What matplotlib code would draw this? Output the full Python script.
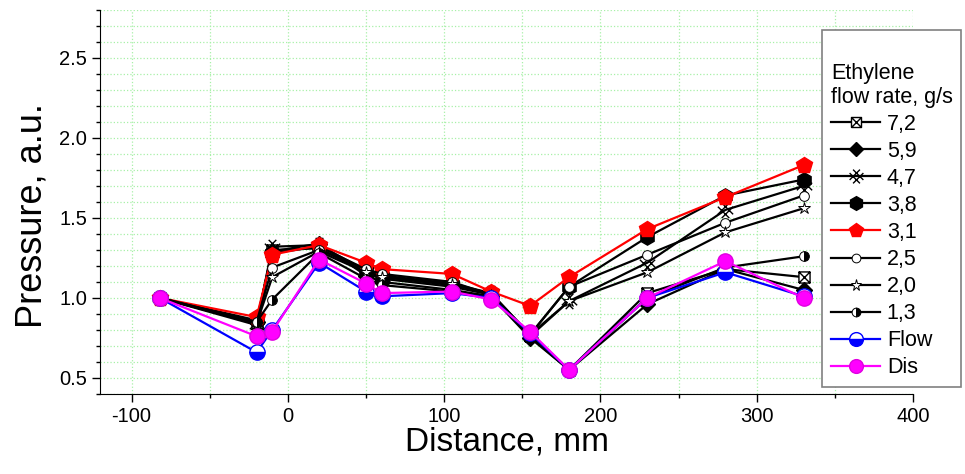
import matplotlib
matplotlib.use('Agg')
import matplotlib.pyplot as plt
from matplotlib.path import Path
from matplotlib.ticker import MultipleLocator

plt.rcParams['font.family'] = ['Liberation Sans', 'DejaVu Sans']
plt.rcParams['axes.unicode_minus'] = False

# Расстояние, мм
distance = [-82, -20, -10, 20, 50, 60, 105, 130, 155, 180, 230, 280, 330]

# Давление для разных расходов этилена
p_72  = [1.00, 0.84, 1.30, 1.31, 1.16, 1.12, 1.07, 1.02, 0.76, 0.55, 1.03, 1.18, 1.13]
p_59  = [1.00, 0.85, 1.29, 1.34, 1.14, 1.10, 1.05, 1.01, 0.75, 0.55, 0.96, 1.18, 1.05]
p_47  = [1.00, 0.83, 1.32, 1.33, 1.17, 1.13, 1.08, 1.03, 0.77, 0.98, 1.22, 1.55, 1.70]
p_38  = [1.00, 0.86, 1.28, 1.32, 1.18, 1.14, 1.09, 1.03, 0.77, 1.07, 1.38, 1.64, 1.74]
p_31  = [1.00, 0.88, 1.27, 1.33, 1.22, 1.18, 1.15, 1.04, 0.95, 1.13, 1.43, 1.63, 1.83]
p_25  = [1.00, 0.85, 1.19, 1.30, 1.18, 1.15, 1.10, 1.02, 0.77, 1.07, 1.27, 1.47, 1.64]
p_20  = [1.00, 0.84, 1.13, 1.29, 1.16, 1.13, 1.09, 1.02, 0.76, 0.98, 1.16, 1.41, 1.56]
p_13  = [1.00, 0.85, 0.99, 1.28, 1.12, 1.08, 1.04, 1.01, 0.76, 0.55, 1.00, 1.19, 1.26]
p_flow = [1.00, 0.66, 0.80, 1.22, 1.04, 1.01, 1.03, 1.00, 0.78, 0.55, 1.00, 1.16, 1.01]
p_dis  = [1.00, 0.76, 0.79, 1.24, 1.09, 1.03, 1.04, 0.99, 0.79, 0.55, 1.00, 1.23, 1.00]

# маркеры: квадрат с крестом и "решётка"
M, L = Path.MOVETO, Path.LINETO
box_x = Path([(-1, -1), (1, -1), (1, 1), (-1, 1), (-1, -1), (-1, -1), (1, 1), (-1, 1), (1, -1)],
             [M, L, L, L, L, M, L, M, L])
lattice = Path([(-1, -0.5), (0.5, 1), (-0.5, -1), (1, 0.5),
                (-1, 0.5), (0.5, -1), (-0.5, 1), (1, -0.5)],
               [M, L, M, L, M, L, M, L])

fig = plt.figure(figsize=(9.65, 4.74), dpi=100)
ax = fig.add_axes([0.104, 0.169, 0.842, 0.81])

lw = 1.6
ax.plot(distance, p_72, color='black', lw=lw, marker=box_x, ms=8, mfc='white', mec='black', mew=1, label='7,2')
ax.plot(distance, p_59, color='black', lw=lw, marker='D', ms=8, mfc='black', mec='black', label='5,9')
ax.plot(distance, p_47, color='black', lw=lw, marker=lattice, ms=11, mfc='none', mec='black', mew=1, label='4,7')
ax.plot(distance, p_38, color='black', lw=lw, marker='h', ms=11, mfc='black', mec='black', label='3,8')
ax.plot(distance, p_31, color='red', lw=lw, marker='p', ms=12, mfc='red', mec='red', label='3,1')
ax.plot(distance, p_25, color='black', lw=lw, marker='o', ms=7, mfc='white', mec='black', mew=0.7, label='2,5')
ax.plot(distance, p_20, color='black', lw=lw, marker='*', ms=9, mfc='white', mec='black', mew=0.7, label='2,0')
ax.plot(distance, p_13, color='black', lw=lw, marker='o', ms=7, fillstyle='right', mfc='black',
        markerfacecoloralt='white', mec='black', mew=0.7, label='1,3')
ax.plot(distance, p_flow, color='blue', lw=lw, marker='o', ms=11, fillstyle='bottom', mfc='blue',
        markerfacecoloralt='white', mec='blue', label='Flow')
ax.plot(distance, p_dis, color='#ff00ff', lw=lw, marker='o', ms=11, mfc='#ff00ff', mec='#e000e0', label='Dis')

ax.set_xlim(-120, 400)
ax.set_ylim(0.4, 2.8)
ax.xaxis.set_major_locator(MultipleLocator(100))
ax.xaxis.set_minor_locator(MultipleLocator(50))
ax.yaxis.set_major_locator(MultipleLocator(0.5))
ax.yaxis.set_minor_locator(MultipleLocator(0.1))
ax.grid(True, which='both', color='#a8f0a8', linestyle=':', linewidth=0.9)
ax.set_axisbelow(True)

ax.spines['top'].set_visible(False)
ax.spines['right'].set_visible(False)
ax.tick_params(which='major', direction='out', length=6, width=1, labelsize=14.5)
ax.tick_params(which='minor', direction='out', length=3, width=1)

ax.set_xlabel('Distance, mm', fontsize=24, labelpad=0)
ax.set_ylabel('Pressure, a.u.', fontsize=26)
ax.yaxis.set_label_coords(-0.062, 0.465)

leg = fig.legend(loc='upper left', bbox_to_anchor=(0.852, 0.937), title=' \nEthylene\nflow rate, g/s',
                 fontsize=15.5, title_fontsize=15.5, alignment='left', fancybox=False, framealpha=1,
                 edgecolor='#808080', handlelength=2.3, labelspacing=0.28, borderpad=0.4,
                 handletextpad=0.3, borderaxespad=0, markerscale=0.9)
leg.get_frame().set_linewidth(1.2)

plt.savefig('out.png', dpi=100)
